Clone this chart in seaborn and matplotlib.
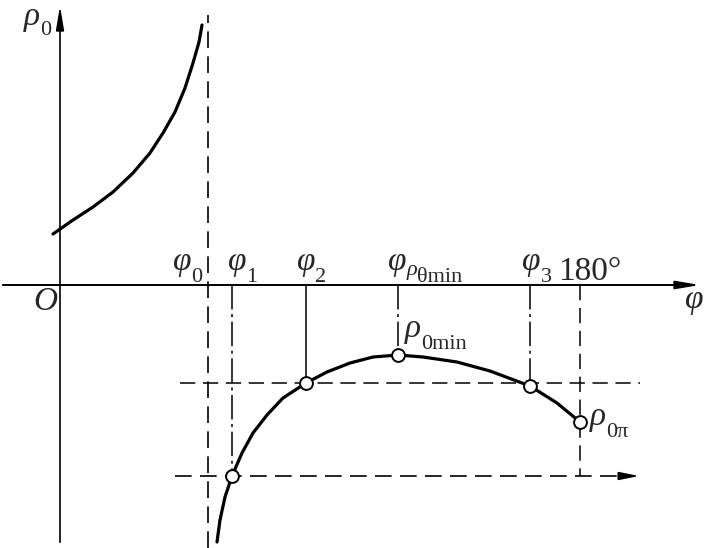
import matplotlib
matplotlib.use("Agg")
import matplotlib.pyplot as plt
from matplotlib.transforms import offset_copy
import seaborn as sns

# Curve readings (x along the phi axis, y along the rho0 axis, origin at O)
upper_x = [-7, 13, 33, 53, 73, 90, 103, 115, 125, 133, 139, 142]
upper_y = [51, 65, 78, 93, 112, 132, 152, 173, 197, 222, 243, 260]

lower_x = [157, 160, 165, 172, 182, 193, 207, 223, 246, 267, 290, 313, 338,
           363, 397, 430, 470, 497, 520]
lower_y = [-257, -235, -212, -191, -168, -148, -130, -113, -98, -87, -78, -72, -70,
           -72, -77, -86, -101, -118, -137]

# Marked points on the lower branch
mark_x = [172, 246, 338, 470, 520]
mark_y = [-191, -98, -70, -101, -137]

# Angle marks on the phi axis
phi0 = 148
tick_x = [172, 246, 338, 470, 520]
dashdot = (0, (16, 3, 2, 3))
tick_styles = [dashdot, "-", dashdot, dashdot, (0, (10, 5))]

sns.set_theme(style="white")
plt.rcParams["font.family"] = ["Liberation Serif", "DejaVu Serif"]

fig = plt.figure(figsize=(7.08, 5.48), dpi=100)
ax = fig.add_axes([0, 0, 1, 1])
ax.set_xlim(-60, 648)
ax.set_ylim(-263, 285)
ax.axis("off")
renderer = fig.canvas.get_renderer()

MAIN, SUB = 24, 16


def label(x, y, parts):
    """parts: list of (text, size, italic, drop_px); drawn left to right."""
    dx = 0
    for s, size, italic, drop in parts:
        tr = offset_copy(ax.transData, fig=fig, x=dx, y=-drop, units="dots")
        t = ax.text(x, y, s, fontsize=size, fontstyle="italic" if italic else "normal",
                    ha="left", va="baseline", transform=tr)
        bb = t.get_window_extent(renderer)
        dx += bb.width


# axes with arrows
ax.annotate("", xy=(643, 0), xytext=(-60, 0),
            arrowprops=dict(arrowstyle="-|>,head_length=1.2,head_width=0.2", lw=1.4, color="black"))
ax.annotate("", xy=(0, 282), xytext=(0, -260),
            arrowprops=dict(arrowstyle="-|>,head_length=1.2,head_width=0.2", lw=1.2, color="black"))

# asymptote at phi0
ax.plot([phi0, phi0], [-263, 270], color="black", lw=1.2, ls=(0, (10, 5)))

# vertical guides
for x, y, ls in zip(tick_x, mark_y, tick_styles):
    low = -191 if x == 520 else y
    ax.plot([x, x], [0, low], color="black", lw=1.1, ls=ls)

# horizontal guides
ax.plot([120, 580], [-98, -98], color="black", lw=1.1, ls=(0, (10, 5)))
ax.plot([115, 575], [-191, -191], color="black", lw=1.2, ls=(0, (10, 5)))
ax.annotate("", xy=(582, -191), xytext=(560, -191),
            arrowprops=dict(arrowstyle="-|>,head_length=1.0,head_width=0.2", lw=1.2, color="black"))

# curves
sns.lineplot(x=upper_x, y=upper_y, ax=ax, color="black", lw=2.3, sort=False)
sns.lineplot(x=lower_x, y=lower_y, ax=ax, color="black", lw=2.3, sort=False)
sns.scatterplot(x=mark_x, y=mark_y, ax=ax, s=85, facecolor="white",
                edgecolor="black", linewidth=1.4, zorder=5)

# labels
label(-36, 260, [("ρ", MAIN, True, 0), ("0", SUB, False, 10)])
label(113, 15, [("φ", MAIN, True, 0), ("0", SUB, False, 12)])
label(168, 15, [("φ", MAIN, True, 0), ("1", SUB, False, 12)])
label(237, 15, [("φ", MAIN, True, 0), ("2", SUB, False, 12)])
label(328, 15, [("φ", MAIN, True, 0), ("ρ", SUB, True, 5), ("θmin", SUB, False, 12)])
label(462, 15, [("φ", MAIN, True, 0), ("3", SUB, False, 12)])
label(498, 5, [("180°", MAIN, False, 0)])
label(-27, -25, [("O", MAIN, True, 0)])
label(625, -23, [("φ", MAIN, True, 0)])
label(345, -52, [("ρ", MAIN, True, 0), ("0min", SUB, False, 12)])
label(530, -140, [("ρ", MAIN, True, 0), ("0π", SUB, False, 12)])

fig.savefig("out.png", dpi=100, facecolor="white")
